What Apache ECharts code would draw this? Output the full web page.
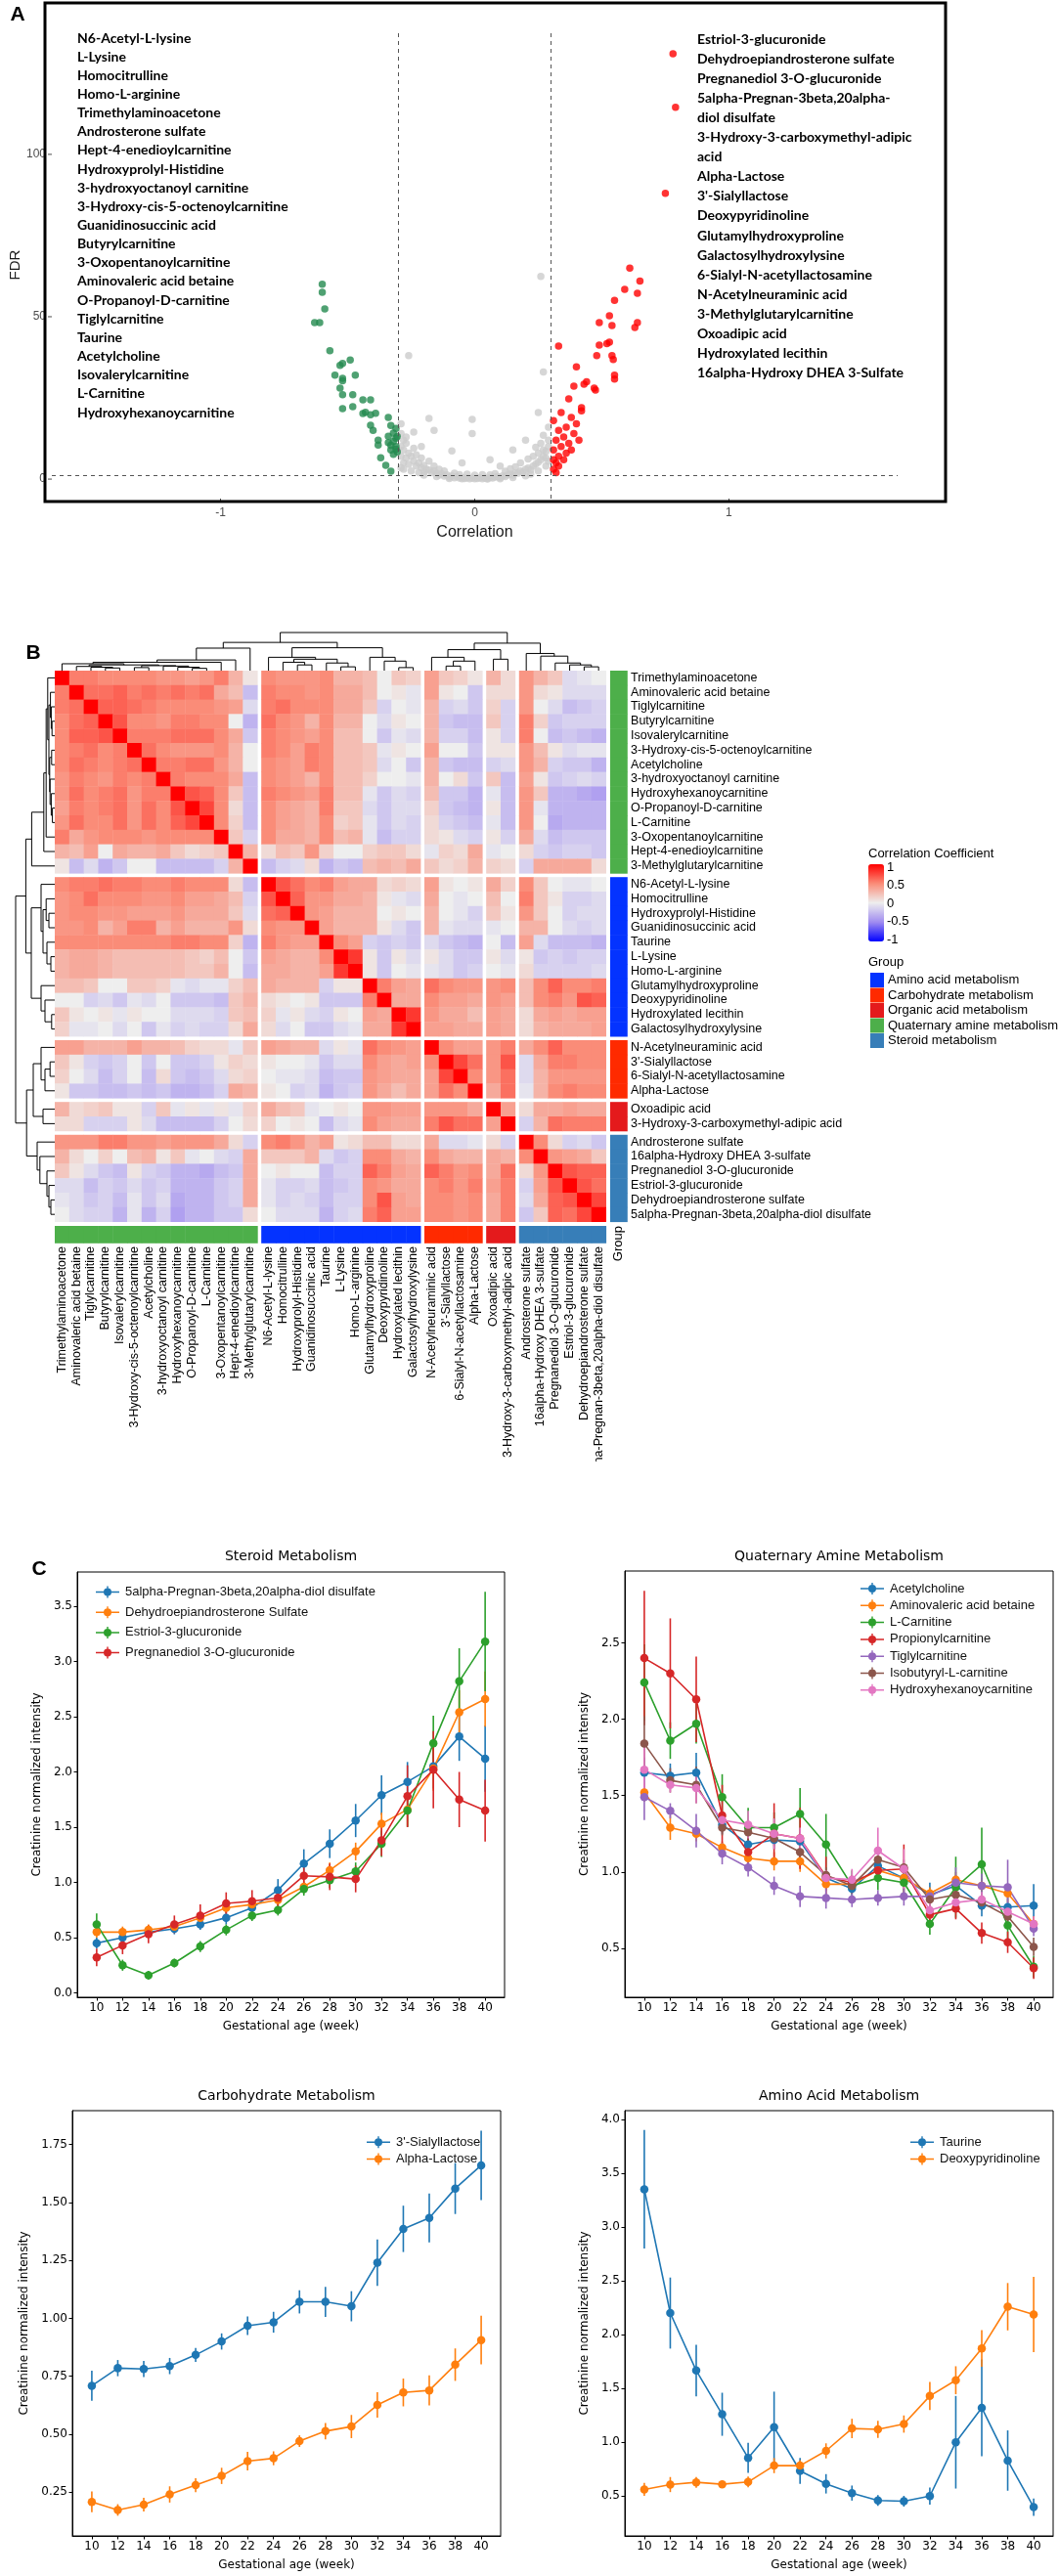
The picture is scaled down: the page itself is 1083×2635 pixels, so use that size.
<!DOCTYPE html>
<html><head><meta charset="utf-8">
<script src="https://cdn.jsdelivr.net/npm/echarts@6/dist/echarts.min.js"></script>
<style>html,body{margin:0;padding:0;background:#fff}#c{width:1083px;height:2635px}</style>
</head><body><div id="c"></div>
<script>
// ===================== DATA =====================
// Panel A: volcano plot [correlation, FDR]
const volcanoGray = [
[-0.29,14],[-0.28,12],[-0.29,10],[-0.27,11],[-0.28,9],[-0.26,8],[-0.29,7],[-0.27,6.5],[-0.25,7],[-0.24,5.5],
[-0.28,5],[-0.26,4.5],[-0.23,4],[-0.22,5],[-0.21,3.5],[-0.2,4.2],[-0.19,3],[-0.18,2.8],[-0.2,2.2],[-0.17,2],
[-0.16,2.6],[-0.15,1.8],[-0.14,1.2],[-0.13,1.6],[-0.12,0.9],[-0.11,1.3],[-0.1,0.6],[-0.09,1],[-0.08,0.4],[-0.07,0.8],
[-0.06,0.3],[-0.05,0.5],[-0.04,0.2],[-0.03,0.4],[-0.02,0.1],[-0.01,0.3],[0,0.1],[0.01,0.2],[0.02,0.4],[0.03,0.1],
[0.04,0.3],[0.05,0.2],[0.06,0.5],[0.07,0.3],[0.08,0.6],[0.09,0.8],[0.1,0.5],[0.11,1],[0.12,0.8],[0.13,1.3],
[0.14,1.5],[0.15,1.2],[0.16,2],[0.17,1.8],[0.18,2.5],[0.19,2.2],[0.2,3],[0.21,3.4],[0.22,2.8],[0.23,4],
[0.24,4.6],[0.25,5.2],[0.26,6],[0.27,7],[0.28,8.5],[0.29,10],[0.29,12],[0.28,6.5],[0.27,9],[0.26,11],
[0.25,8],[-0.25,2.5],[-0.2,1.2],[-0.15,0.8],[-0.1,0.2],[-0.05,0.1],[0.05,0],[0.1,0.1],[0.15,0.5],[0.2,1],
[0.25,2.5],[0.22,1.5],[-0.22,2],[-0.28,3],[0.28,4],[-0.12,2.5],[0.12,2.4],[-0.08,1.8],[0.08,1.7],[0,1.2],
[-0.03,1.5],[0.03,1.4],[-0.18,5.5],[0.18,5],[-0.23,7.5],[0.23,7],[-0.16,4],[0.16,3.8],[-0.27,13],[0.27,13.5],
[-0.24,9.5],[0.24,9.8],[-0.21,6.5],[0.21,6.2],[-0.14,3],[0.14,3.2],[-0.06,1.4],[0.06,1.3],[-0.29,3.5],[0.29,5.5],
[-0.26,38],[0.26,62.4],[0.27,33],[-0.18,18.7],[-0.16,15],[-0.01,18.4],[-0.01,14],[0.25,20.5],[0.15,9],[-0.09,8.7],
[-0.21,10],[0.2,12],[-0.24,14.5],[0.29,16],[-0.29,17],[0.06,6],[-0.05,5],[0.1,4]
];
const volcanoGreen = [
[-0.60,60],[-0.60,57.5],[-0.59,52.4],[-0.63,48.2],[-0.61,48.2],[-0.57,39.5],[-0.49,36.7],[-0.53,35],[-0.52,35.6],[-0.55,32],
[-0.47,32],[-0.52,31],[-0.52,30.3],[-0.53,28],[-0.48,26],[-0.52,26],[-0.44,24.4],[-0.41,24.4],[-0.52,21.7],[-0.48,22.3],
[-0.44,20.2],[-0.43,20.6],[-0.41,19.8],[-0.39,20.3],[-0.34,19],[-0.41,16.6],[-0.40,15],[-0.33,16.5],[-0.31,15.6],[-0.32,14.2],
[-0.38,12],[-0.38,10.5],[-0.34,11.2],[-0.31,10],[-0.33,9],[-0.305,8.4],[-0.32,7.6],[-0.37,6.6],[-0.35,4.2],[-0.33,2.4],
[-0.31,12.6],[-0.34,13.2],[-0.32,11.6],[-0.305,13.1],[-0.31,9.2],[-0.33,10.4]
];
const volcanoRed = [
[0.78,131],[0.79,114.5],[0.75,88],[0.61,65],[0.65,61],[0.59,58.4],[0.64,57.2],[0.55,55],[0.53,50.3],[0.49,48.2],
[0.54,47.3],[0.64,48.2],[0.63,46.7],[0.33,41],[0.49,41.3],[0.53,42.2],[0.52,41.7],[0.48,38],[0.54,38],[0.545,36.8],
[0.40,34.6],[0.55,32],[0.55,30.8],[0.39,28.6],[0.44,30],[0.43,29.2],[0.47,28],[0.475,27.4],[0.37,24.7],[0.42,22],
[0.31,3],[0.32,5],[0.33,7],[0.31,9],[0.34,10],[0.32,12],[0.35,13],[0.33,15],[0.36,16],[0.31,18],
[0.38,19],[0.34,20.5],[0.36,8],[0.37,11],[0.39,14],[0.40,17],[0.42,21],[0.31,6],[0.33,4],[0.35,6],
[0.38,9],[0.32,2],[0.41,12]
];
const volcanoXTicks = [-1, 0, 1];
const volcanoYTicks = [0, 50, 100];
const corrCutoffs = [-0.3, 0.3];
const fdrCutoff = 1.3;
const negLabels = ['N6-Acetyl-L-lysine','L-Lysine','Homocitrulline','Homo-L-arginine','Trimethylaminoacetone','Androsterone sulfate',
 'Hept-4-enedioylcarnitine','Hydroxyprolyl-Histidine','3-hydroxyoctanoyl carnitine','3-Hydroxy-cis-5-octenoylcarnitine',
 'Guanidinosuccinic acid','Butyrylcarnitine','3-Oxopentanoylcarnitine','Aminovaleric acid betaine','O-Propanoyl-D-carnitine',
 'Tiglylcarnitine','Taurine','Acetylcholine','Isovalerylcarnitine','L-Carnitine','Hydroxyhexanoycarnitine'];
const posLabelLines = ['Estriol-3-glucuronide','Dehydroepiandrosterone sulfate','Pregnanediol 3-O-glucuronide',
 '5alpha-Pregnan-3beta,20alpha-','diol disulfate','3-Hydroxy-3-carboxymethyl-adipic','acid','Alpha-Lactose',"3'-Sialyllactose",
 'Deoxypyridinoline','Glutamylhydroxyproline','Galactosylhydroxylysine','6-Sialyl-N-acetyllactosamine','N-Acetylneuraminic acid',
 '3-Methylglutarylcarnitine','Oxoadipic acid','Hydroxylated lecithin','16alpha-Hydroxy DHEA 3-Sulfate'];

// Panel B: heatmap
const metabolites = ['Trimethylaminoacetone','Aminovaleric acid betaine','Tiglylcarnitine','Butyrylcarnitine','Isovalerylcarnitine',
 '3-Hydroxy-cis-5-octenoylcarnitine','Acetylcholine','3-hydroxyoctanoyl carnitine','Hydroxyhexanoycarnitine','O-Propanoyl-D-carnitine',
 'L-Carnitine','3-Oxopentanoylcarnitine','Hept-4-enedioylcarnitine','3-Methylglutarylcarnitine','N6-Acetyl-L-lysine','Homocitrulline',
 'Hydroxyprolyl-Histidine','Guanidinosuccinic acid','Taurine','L-Lysine','Homo-L-arginine','Glutamylhydroxyproline','Deoxypyridinoline',
 'Hydroxylated lecithin','Galactosylhydroxylysine','N-Acetylneuraminic acid',"3'-Sialyllactose",'6-Sialyl-N-acetyllactosamine',
 'Alpha-Lactose','Oxoadipic acid','3-Hydroxy-3-carboxymethyl-adipic acid','Androsterone sulfate','16alpha-Hydroxy DHEA 3-sulfate',
 'Pregnanediol 3-O-glucuronide','Estriol-3-glucuronide','Dehydroepiandrosterone sulfate','5alpha-Pregnan-3beta,20alpha-diol disulfate'];
const groupNames = ['Amino acid metabolism','Carbohydrate metabolism','Organic acid metabolism','Quaternary amine metabolism','Steroid metabolism'];
const groupColors = ['#0433FF','#FF2A00','#E41A1C','#4DAF4A','#377EB8'];
const metaboliteGroup = [3,3,3,3,3,3,3,3,3,3,3,3,3,3, 0,0,0,0,0,0,0,0,0,0,0, 1,1,1,1, 2,2, 4,4,4,4,4,4];
const corrLower = [
[1],
[0.55,1],
[0.55,0.6,1],
[0.5,0.6,0.65,1],
[0.5,0.65,0.65,0.7,1],
[0.5,0.55,0.6,0.5,0.55,1],
[0.5,0.6,0.55,0.5,0.55,0.6,1],
[0.45,0.55,0.5,0.45,0.55,0.5,0.55,1],
[0.45,0.6,0.5,0.55,0.6,0.45,0.55,0.55,1],
[0.4,0.55,0.5,0.55,0.6,0.45,0.6,0.5,0.7,1],
[0.45,0.6,0.5,0.5,0.6,0.45,0.6,0.5,0.65,0.75,1],
[0.55,0.35,0.45,0.5,0.5,0.5,0.45,0.5,0.5,0.5,0.5,1],
[0.3,0.25,0.4,0.0,0.35,0.3,0.3,0.35,0.2,0.1,0.15,0.2,1],
[0.05,-0.25,-0.1,-0.3,-0.2,0.0,0.0,-0.25,-0.25,-0.25,-0.25,-0.15,0.3,1],
[0.5,0.55,0.55,0.6,0.55,0.55,0.5,0.5,0.55,0.5,0.5,0.5,0.1,-0.25,1],
[0.45,0.5,0.6,0.5,0.5,0.5,0.45,0.45,0.5,0.4,0.4,0.35,0.25,-0.15,0.7,1],
[0.45,0.5,0.5,0.45,0.45,0.4,0.4,0.4,0.45,0.35,0.35,0.35,0.2,-0.1,0.6,0.65,1],
[0.45,0.45,0.5,0.3,0.4,0.55,0.55,0.3,0.4,0.3,0.3,0.3,0.45,0.1,0.5,0.45,0.45,1],
[0.5,0.5,0.5,0.5,0.5,0.5,0.5,0.5,0.55,0.55,0.5,0.5,0.15,-0.3,0.55,0.45,0.4,0.4,1],
[0.3,0.35,0.35,0.3,0.25,0.25,0.25,0.25,0.25,0.2,0.15,0.25,0.0,-0.2,0.4,0.35,0.3,0.3,0.5,1],
[0.3,0.35,0.35,0.3,0.25,0.25,0.25,0.25,0.25,0.2,0.2,0.3,0.0,-0.25,0.35,0.35,0.3,0.3,0.4,0.8,1],
[0.25,0.25,0.2,0.0,0.0,0.2,0.2,0.15,-0.05,-0.1,-0.05,-0.05,0.15,0.25,0.35,0.3,0.3,0.3,-0.15,0.05,0.05,1],
[0.0,0.0,-0.15,-0.1,-0.2,-0.05,-0.1,0.0,-0.2,-0.2,-0.2,-0.25,0.2,0.3,0.1,0.05,0.0,0.05,-0.2,-0.2,-0.2,0.55,1],
[0.2,0.05,0.0,0.05,-0.05,0.05,0.0,0.0,-0.1,-0.1,-0.1,-0.15,0.2,0.25,0.15,-0.05,0.05,-0.1,-0.15,0.05,0.0,0.4,0.35,1],
[0.15,-0.05,-0.05,0.0,-0.1,0.0,-0.2,-0.05,-0.15,-0.1,-0.15,-0.15,0.1,0.35,0.1,-0.1,0.0,-0.2,-0.2,-0.1,-0.05,0.35,0.35,0.8,1],
[0.4,0.4,0.3,0.3,0.3,0.4,0.3,0.3,0.25,0.15,0.1,0.1,-0.05,0.2,0.4,0.35,0.3,0.3,-0.1,0.05,-0.05,0.6,0.5,0.45,0.4,1],
[0.2,0.05,-0.15,-0.2,-0.15,0.0,-0.2,0.0,-0.2,-0.2,-0.15,0.05,0.15,0.1,0.05,0.0,0.0,-0.05,-0.2,-0.1,-0.1,0.5,0.4,0.35,0.4,0.5,1],
[0.15,0.0,-0.1,-0.25,-0.15,0.0,-0.25,0.1,-0.2,-0.25,-0.2,-0.1,0.1,0.15,0.0,-0.05,-0.05,-0.1,-0.25,-0.2,-0.2,0.45,0.4,0.35,0.35,0.4,0.75,1],
[0.05,-0.2,-0.2,-0.25,-0.25,-0.2,-0.25,-0.2,-0.3,-0.3,-0.25,-0.15,0.35,0.3,0.05,0.0,-0.15,-0.1,-0.3,-0.2,-0.15,0.45,0.35,0.25,0.35,0.4,0.6,0.5,1],
[0.3,0.1,0.15,0.2,0.05,0.05,-0.15,0.2,-0.05,0.05,-0.05,0.05,-0.05,0.15,0.35,0.25,0.2,-0.05,0.0,0.05,0.0,0.45,0.45,0.4,0.4,0.45,0.45,0.45,0.35,1],
[0.1,0.1,-0.15,-0.15,-0.15,0.05,-0.1,-0.25,-0.25,-0.25,-0.25,-0.15,0.0,0.1,0.15,0.0,0.05,0.0,-0.25,-0.1,-0.05,0.5,0.4,0.35,0.35,0.55,0.7,0.6,0.6,0.4,1],
[0.45,0.45,0.45,0.55,0.55,0.45,0.45,0.4,0.45,0.45,0.45,0.35,0.1,-0.15,0.5,0.55,0.45,0.3,0.4,0.05,0.1,0.25,0.25,0.1,0.1,0.35,-0.1,-0.1,-0.05,0.1,-0.15,1],
[0.3,0.1,0.0,0.15,0.0,0.25,0.3,0.05,0.2,-0.05,0.0,-0.1,-0.15,0.35,0.2,0.2,0.2,0.3,-0.1,-0.2,-0.15,0.5,0.5,0.35,0.3,0.5,0.35,0.3,0.3,0.35,0.3,0.5,1],
[0.2,0.05,-0.1,-0.2,-0.25,0.05,-0.15,-0.2,-0.3,-0.3,-0.35,-0.25,-0.2,0.35,0.0,0.05,0.0,0.0,-0.25,-0.15,-0.15,0.65,0.55,0.4,0.35,0.65,0.55,0.45,0.5,0.35,0.6,0.1,0.45,1],
[-0.1,-0.1,-0.25,-0.15,-0.2,-0.1,-0.2,-0.15,-0.3,-0.3,-0.3,-0.2,-0.15,0.35,-0.05,-0.15,-0.15,-0.1,-0.25,-0.2,-0.15,0.5,0.45,0.35,0.35,0.5,0.55,0.45,0.55,0.4,0.55,-0.15,0.4,0.7,1],
[-0.05,-0.1,-0.2,-0.15,-0.25,-0.05,-0.2,-0.1,-0.35,-0.3,-0.3,-0.2,-0.15,0.35,-0.05,-0.15,-0.1,-0.15,-0.25,-0.15,-0.15,0.5,0.7,0.4,0.35,0.5,0.5,0.45,0.5,0.35,0.55,-0.1,0.35,0.65,0.7,1],
[0.0,-0.1,-0.15,-0.15,-0.3,-0.05,-0.3,-0.15,-0.4,-0.3,-0.3,-0.2,-0.2,0.1,0.0,-0.1,-0.1,-0.1,-0.3,-0.15,-0.1,0.55,0.65,0.4,0.4,0.5,0.5,0.45,0.5,0.35,0.55,-0.2,0.2,0.65,0.6,0.75,1]
];
const colorbarTicks = [-1, -0.5, 0, 0.5, 1];
// hierarchical clustering tree: [height, left, right], leaves = metabolite index
const treeQ = [0.59, [0.28, [0.22, [0.18, 0, [0.15, [0.11, 1, [0.09, 2, [0.07, 3, 4]]], [0.13, [0.08, 5, 6], [0.12, 7, [0.09, 8, [0.06, 9, 10]]]]]], 11], 12], 13];
const treeA = [0.6, [0.35, 14, [0.3, [0.22, 15, [0.15, 16, 17]], [0.2, 18, [0.1, 19, 20]]]], [0.35, 21, [0.25, 22, [0.08, 23, 24]]]];
const treeC = [0.35, 25, [0.25, [0.12, 26, 27], 28]];
const treeO = [0.3, 29, 30];
const treeS = [0.45, 31, [0.38, 32, [0.2, 33, [0.15, 34, [0.1, 35, 36]]]]];
const dendroTree = [1, [0.74, treeQ, treeA], [0.72, [0.55, treeC, treeO], treeS]];

// Panel C
const weeks = [10,12,14,16,18,20,22,24,26,28,30,32,34,36,38,40];
const steroidNames = ['5alpha-Pregnan-3beta,20alpha-diol disulfate','Dehydroepiandrosterone Sulfate','Estriol-3-glucuronide','Pregnanediol 3-O-glucuronide'];
const steroidMean = [
 [0.45,0.5,0.55,0.58,0.62,0.68,0.77,0.93,1.17,1.35,1.56,1.79,1.91,2.05,2.32,2.12],
 [0.55,0.55,0.57,0.6,0.68,0.77,0.8,0.84,0.96,1.11,1.28,1.53,1.66,2.03,2.54,2.66],
 [0.62,0.25,0.16,0.27,0.42,0.57,0.7,0.75,0.94,1.02,1.10,1.35,1.65,2.26,2.82,3.18],
 [0.32,0.43,0.53,0.62,0.7,0.81,0.83,0.86,1.06,1.05,1.03,1.38,1.78,2.02,1.75,1.65]];
const steroidErr = [
 [0.05,0.05,0.05,0.05,0.05,0.06,0.07,0.1,0.13,0.13,0.15,0.18,0.18,0.2,0.22,0.3],
 [0.05,0.05,0.05,0.05,0.05,0.05,0.05,0.05,0.06,0.07,0.08,0.1,0.15,0.2,0.2,0.25],
 [0.1,0.05,0.04,0.04,0.05,0.05,0.05,0.05,0.06,0.07,0.08,0.12,0.15,0.25,0.3,0.45],
 [0.08,0.08,0.08,0.08,0.1,0.1,0.1,0.1,0.12,0.12,0.12,0.14,0.28,0.35,0.25,0.28]];
const quatNames = ['Acetylcholine','Aminovaleric acid betaine','L-Carnitine','Propionylcarnitine','Tiglylcarnitine','Isobutyryl-L-carnitine','Hydroxyhexanoycarnitine'];
const quatMean = [
 [1.65,1.63,1.65,1.31,1.18,1.21,1.20,0.96,0.89,1.04,0.96,0.85,0.91,0.78,0.77,0.78],
 [1.52,1.29,1.25,1.16,1.09,1.07,1.07,0.92,0.92,1.01,0.96,0.86,0.95,0.91,0.86,0.66],
 [2.24,1.86,1.97,1.49,1.29,1.29,1.38,1.18,0.91,0.96,0.93,0.66,0.90,1.05,0.65,0.38],
 [2.40,2.30,2.13,1.37,1.13,1.25,1.22,0.97,0.93,1.01,1.02,0.72,0.76,0.60,0.54,0.37],
 [1.49,1.40,1.27,1.12,1.03,0.91,0.84,0.83,0.82,0.83,0.84,0.84,0.93,0.91,0.90,0.63],
 [1.84,1.60,1.57,1.29,1.26,1.22,1.13,0.98,0.91,1.08,1.03,0.82,0.85,0.80,0.71,0.51],
 [1.67,1.57,1.55,1.34,1.31,1.25,1.22,0.96,0.95,1.14,1.02,0.75,0.80,0.82,0.74,0.66]];
const quatErr = [
 [0.1,0.08,0.13,0.06,0.05,0.06,0.06,0.05,0.04,0.05,0.05,0.08,0.07,0.07,0.06,0.14],
 [0.06,0.08,0.05,0.04,0.04,0.06,0.07,0.04,0.03,0.04,0.04,0.04,0.05,0.05,0.06,0.05],
 [0.25,0.12,0.13,0.15,0.13,0.1,0.17,0.2,0.1,0.08,0.08,0.07,0.2,0.24,0.1,0.07],
 [0.44,0.36,0.28,0.2,0.1,0.2,0.2,0.13,0.05,0.07,0.16,0.06,0.07,0.07,0.07,0.07],
 [0.15,0.05,0.11,0.07,0.06,0.06,0.07,0.07,0.05,0.05,0.06,0.04,0.1,0.08,0.18,0.05],
 [0.18,0.08,0.12,0.05,0.05,0.05,0.06,0.05,0.05,0.05,0.05,0.05,0.05,0.05,0.05,0.06],
 [0.15,0.05,0.1,0.05,0.09,0.1,0.07,0.05,0.07,0.15,0.13,0.05,0.05,0.05,0.05,0.05]];
const carbNames = ["3'-Sialyllactose",'Alpha-Lactose'];
const carbMean = [
 [0.709,0.785,0.781,0.794,0.842,0.90,0.968,0.983,1.071,1.071,1.052,1.24,1.386,1.433,1.56,1.66],
 [0.208,0.173,0.196,0.24,0.28,0.32,0.384,0.396,0.47,0.513,0.533,0.626,0.68,0.689,0.80,0.906]];
const carbErr = [
 [0.065,0.035,0.035,0.035,0.03,0.035,0.04,0.045,0.05,0.065,0.065,0.1,0.1,0.105,0.11,0.15],
 [0.045,0.025,0.03,0.035,0.03,0.035,0.04,0.03,0.025,0.035,0.05,0.055,0.06,0.065,0.07,0.105]];
const aminoNames = ['Taurine','Deoxypyridinoline'];
const aminoMean = [
 [3.35,2.2,1.666,1.26,0.855,1.14,0.734,0.614,0.528,0.459,0.452,0.5,1.0,1.32,0.83,0.397],
 [0.562,0.607,0.628,0.61,0.631,0.783,0.783,0.92,1.128,1.12,1.169,1.43,1.576,1.872,2.259,2.186]];
const aminoErr = [
 [0.55,0.33,0.24,0.2,0.14,0.33,0.12,0.09,0.07,0.05,0.05,0.08,0.43,0.45,0.28,0.08],
 [0.06,0.07,0.05,0.03,0.05,0.07,0.05,0.07,0.09,0.08,0.08,0.13,0.13,0.17,0.22,0.35]];
const tab10 = ['#1f77b4','#ff7f0e','#2ca02c','#d62728','#9467bd','#8c564b','#e377c2'];
const steroidTicks = [0,0.5,1,1.5,2,2.5,3,3.5];
const quatTicks = [0.5,1,1.5,2,2.5];
const carbTicks = [0.25,0.5,0.75,1,1.25,1.5,1.75];
const aminoTicks = [0.5,1,1.5,2,2.5,3,3.5,4];

// ===================== LAYOUT / BUILD =====================
const chart = echarts.init(document.getElementById('c'), null, {renderer:'canvas', width:1083, height:2635});
const SANS = 'Liberation Sans, Arial, sans-serif';
const DJ = 'DejaVu Sans, sans-serif';

const GAP = 0.27, BARGAP = 0.3, BARW = 1.2, CELL = 14.8;
const blockOf = [];
let blk = 0;
metaboliteGroup.forEach((g, i) => { if (i > 0 && g !== metaboliteGroup[i-1]) blk++; blockOf.push(blk); });
const nBlocks = blk + 1;
const cellPos = metaboliteGroup.map((g, i) => i + GAP * blockOf[i]);
const HM = metabolites.length + GAP * (nBlocks - 1);
const T = HM + BARGAP + BARW;
const HMPX = T * CELL;

function corrAt(i, j) { return j <= i ? corrLower[i][j] : corrLower[j][i]; }
const heatData = [];
for (let i = 0; i < metabolites.length; i++) for (let j = 0; j < metabolites.length; j++)
  heatData.push([cellPos[j], cellPos[i], corrAt(i, j)]);

const dendroSegs = [];
function walk(node) {
  if (typeof node === 'number') return {p: cellPos[node] + 0.5, h: 0};
  const l = walk(node[1]), r = walk(node[2]), h = node[0];
  dendroSegs.push([l.p, l.h, l.p, h], [r.p, r.h, r.p, h], [l.p, h, r.p, h]);
  return {p: (l.p + r.p) / 2, h: h};
}
walk(dendroTree);

const grids = [
  {left:46, top:32, width:872, height:478},
  {left:56, top:686, width:HMPX, height:HMPX},
  {left:56, top:647, width:HMPX, height:39},
  {left:16, top:686, width:40, height:HMPX},
  {left:888, top:887, width:16, height:74},
  {left:79, top:1608, width:437, height:435, show:true, borderColor:'#000', borderWidth:1},
  {left:639, top:1607, width:438, height:436, show:true, borderColor:'#000', borderWidth:1},
  {left:74, top:2159, width:438, height:435, show:true, borderColor:'#000', borderWidth:1},
  {left:639, top:2159, width:438, height:435, show:true, borderColor:'#000', borderWidth:1}
];
const hidden = (gi, min, max, inverse) => ({gridIndex:gi, type:'value', min, max, inverse:!!inverse, show:false});
function cXAxis(gi) {
  return {gridIndex:gi, type:'value', min:8.5, max:41.5,
    axisLine:{show:true, onZero:false, lineStyle:{color:'#000', width:1}},
    axisTick:{show:true, customValues:weeks, length:3.5, lineStyle:{color:'#000'}},
    axisLabel:{customValues:weeks, color:'#000', fontSize:12, fontFamily:DJ, margin:5},
    splitLine:{show:false},
    name:'Gestational age (week)', nameLocation:'middle', nameGap:24,
    nameTextStyle:{fontSize:12, fontFamily:DJ, color:'#000'}};
}
function cYAxis(gi, min, max, ticks, dec, gap) {
  return {gridIndex:gi, type:'value', min, max,
    axisLine:{show:true, onZero:false, lineStyle:{color:'#000', width:1}},
    axisTick:{show:true, customValues:ticks, length:3.5, lineStyle:{color:'#000'}},
    axisLabel:{customValues:ticks, color:'#000', fontSize:12, fontFamily:DJ, margin:5, formatter:v => Number(v).toFixed(dec)},
    splitLine:{show:false},
    name:'Creatinine normalized intensity', nameLocation:'middle', nameGap:gap,
    nameTextStyle:{fontSize:12, fontFamily:DJ, color:'#000'}};
}
const xAxes = [
  {gridIndex:0, type:'value', min:-1.664, max:1.664, position:'bottom', axisLine:{show:false, onZero:false},
   axisTick:{show:true, customValues:volcanoXTicks, length:4, lineStyle:{color:'#4d4d4d'}},
   axisLabel:{customValues:volcanoXTicks, color:'#4d4d4d', fontSize:12, fontFamily:SANS, margin:9},
   splitLine:{show:false}, name:'Correlation', nameLocation:'middle', nameGap:27,
   nameTextStyle:{fontSize:16, fontFamily:SANS, color:'#1a1a1a'}},
  hidden(1, 0, T), hidden(2, 0, T), hidden(3, 0, 1, true), hidden(4, 0, 1),
  cXAxis(5), cXAxis(6), cXAxis(7), cXAxis(8)
];
const yAxes = [
  {gridIndex:0, type:'value', min:-6.0, max:137.9, position:'left', axisLine:{show:false, onZero:false},
   axisTick:{show:false}, axisLabel:{show:false},
   splitLine:{show:false}, name:'FDR', nameLocation:'middle', nameGap:30,
   nameTextStyle:{fontSize:15, fontFamily:SANS, color:'#1a1a1a'}},
  hidden(1, 0, T, true), hidden(2, 0, 1), hidden(3, 0, T, true),
  {gridIndex:4, type:'value', min:-1, max:1, interval:0.5, position:'right',
   axisLine:{show:false, onZero:false}, axisTick:{show:true, inside:true, length:3, lineStyle:{color:'#fff'}},
   axisLabel:{color:'#000', fontSize:13, fontFamily:SANS, margin:3, customValues:colorbarTicks}, splitLine:{show:false}},
  cYAxis(5, -0.04, 3.81, steroidTicks, 1, 35),
  cYAxis(6, 0.18, 2.97, quatTicks, 1, 35),
  cYAxis(7, 0.061, 1.896, carbTicks, 2, 43),
  cYAxis(8, 0.13, 4.08, aminoTicks, 1, 35)
];

const series = [];
series.push({type:'scatter', xAxisIndex:0, yAxisIndex:0, data:volcanoGray, symbolSize:7.5, itemStyle:{color:'#CCCCCC'}, z:2,
  markLine:{silent:true, symbol:'none', label:{show:false}, lineStyle:{color:'#555', type:[4,4], width:1},
    data:[{xAxis:corrCutoffs[0]}, {xAxis:corrCutoffs[1]}, {yAxis:fdrCutoff}]}});
series.push({type:'scatter', xAxisIndex:0, yAxisIndex:0, data:volcanoGreen, symbolSize:7.5, itemStyle:{color:'#23894F'}, z:3});
series.push({type:'scatter', xAxisIndex:0, yAxisIndex:0, data:volcanoRed, symbolSize:7.5, itemStyle:{color:'#FF0000'}, z:3});
// y ticks + labels of panel A, placed through the axis scale
series.push({type:'custom', xAxisIndex:0, yAxisIndex:0, silent:true, data:volcanoYTicks.map(v => [-1.664, v]), encode:{x:0, y:1},
  renderItem:(params, api) => {
    const p = api.coord([api.value(0), api.value(1)]);
    return {type:'group', children:[
      {type:'line', shape:{x1:p[0]-4, y1:p[1], x2:p[0], y2:p[1]}, style:{stroke:'#4d4d4d', lineWidth:1}},
      {type:'text', x:p[0]-6, y:p[1], style:{text:String(api.value(1)), font:'12px ' + SANS, fill:'#4d4d4d', align:'right', verticalAlign:'middle'}}]};
  }});

const heatIndex = series.length;
series.push({type:'custom', xAxisIndex:1, yAxisIndex:1, data:heatData, encode:{x:0, y:1}, silent:true,
  renderItem:(params, api) => {
    const p1 = api.coord([api.value(0), api.value(1)]);
    const p2 = api.coord([api.value(0) + 1, api.value(1) + 1]);
    return {type:'rect', shape:{x:p1[0], y:p1[1], width:p2[0]-p1[0]+0.4, height:p2[1]-p1[1]+0.4},
      style:{fill:api.visual('color')}};
  }});
series.push({type:'custom', xAxisIndex:1, yAxisIndex:1, silent:true,
  data:cellPos.map((p, i) => [p, metaboliteGroup[i]]), encode:{x:0, y:0},
  renderItem:(params, api) => {
    const p = api.value(0), c = groupColors[api.value(1)];
    const a = api.coord([HM + BARGAP, p]), b = api.coord([T, p + 1]);
    const c1 = api.coord([p, HM + BARGAP]), d = api.coord([p + 1, T]);
    return {type:'group', children:[
      {type:'rect', shape:{x:a[0], y:a[1], width:b[0]-a[0], height:b[1]-a[1]+0.5}, style:{fill:c}},
      {type:'rect', shape:{x:c1[0], y:c1[1], width:d[0]-c1[0]+0.5, height:d[1]-c1[1]}, style:{fill:c}}]};
  }});
series.push({type:'custom', xAxisIndex:1, yAxisIndex:1, silent:true,
  data:cellPos.map((p, i) => [p, i]), encode:{x:0, y:0},
  renderItem:(params, api) => {
    const p = api.value(0), i = api.value(1);
    const r = api.coord([T + 0.22, p + 0.5]);
    const c = api.coord([p + 0.5, T + 0.22]);
    const font = '12.5px ' + SANS;
    return {type:'group', children:[
      {type:'text', x:r[0], y:r[1], style:{text:metabolites[i], font, fill:'#000', align:'left', verticalAlign:'middle'}},
      {type:'text', x:c[0], y:c[1], rotation:Math.PI/2, style:{text:metabolites[i], font, fill:'#000', align:'right', verticalAlign:'middle'}}]};
  }});
series.push({type:'custom', xAxisIndex:2, yAxisIndex:2, silent:true, data:dendroSegs, encode:{x:0, y:1},
  renderItem:(params, api) => {
    const a = api.coord([api.value(0), api.value(1)]), b = api.coord([api.value(2), api.value(3)]);
    return {type:'line', shape:{x1:a[0], y1:a[1], x2:b[0], y2:b[1]}, style:{stroke:'#000', lineWidth:1}};
  }});
series.push({type:'custom', xAxisIndex:3, yAxisIndex:3, silent:true, data:dendroSegs, encode:{x:1, y:0},
  renderItem:(params, api) => {
    const a = api.coord([api.value(1), api.value(0)]), b = api.coord([api.value(3), api.value(2)]);
    return {type:'line', shape:{x1:a[0], y1:a[1], x2:b[0], y2:b[1]}, style:{stroke:'#000', lineWidth:1}};
  }});

function addPanel(gi, names, means, errs) {
  names.forEach((n, k) => {
    const col = tab10[k];
    series.push({type:'custom', xAxisIndex:gi, yAxisIndex:gi, silent:true, z:2,
      data:weeks.map((w, t) => [w, means[k][t] - errs[k][t], means[k][t] + errs[k][t]]), encode:{x:0, y:[1,2]},
      renderItem:(params, api) => {
        const a = api.coord([api.value(0), api.value(1)]), b = api.coord([api.value(0), api.value(2)]);
        return {type:'line', shape:{x1:a[0], y1:a[1], x2:b[0], y2:b[1]}, style:{stroke:col, lineWidth:1.6}};
      }});
    series.push({type:'line', name:n, xAxisIndex:gi, yAxisIndex:gi, z:2,
      data:weeks.map((w, t) => [w, means[k][t]]), symbol:'circle', symbolSize:8.5, showSymbol:true,
      itemStyle:{color:col}, lineStyle:{color:col, width:1.6}, emphasis:{disabled:true}});
  });
}
addPanel(5, steroidNames, steroidMean, steroidErr);
addPanel(6, quatNames, quatMean, quatErr);
addPanel(7, carbNames, carbMean, carbErr);
addPanel(8, aminoNames, aminoMean, aminoErr);

const legIcon = 'path://M0,5.25H24V6.75H0Z M8,6A4,4,0,1,1,16,6A4,4,0,1,1,8,6Z M11.3,0H12.7V12H11.3Z';
function mkLegend(names, left, top, gap) {
  return {data:names.map(n => ({name:n, icon:legIcon})), left, top, orient:'vertical', itemWidth:24, itemHeight:12,
    itemGap:gap, selectedMode:false, padding:0,
    textStyle:{fontSize:13, fontFamily:SANS, color:'#111', lineHeight:12, padding:[0,0,0,1]}};
}
const legends = [
  mkLegend(steroidNames, 98, 1622, 7.7),
  mkLegend(quatNames, 880, 1618.5, 4.3),
  mkLegend(carbNames, 375, 2184.7, 4.3),
  mkLegend(aminoNames, 931, 2184.7, 4.3)
];
const mkTitle = (text, x, y) => ({text, left:x, top:y, textAlign:'center', padding:0,
  textStyle:{fontSize:14, fontWeight:'normal', fontFamily:DJ, color:'#000'}});
const titles = [
  mkTitle('Steroid Metabolism', 297.5, 1585),
  mkTitle('Quaternary Amine Metabolism', 858, 1585),
  mkTitle('Carbohydrate Metabolism', 293, 2137),
  mkTitle('Amino Acid Metabolism', 858, 2137)
];

const gfx = [];
gfx.push({type:'rect', z:50, shape:{x:46, y:3, width:921, height:510}, style:{fill:'none', stroke:'#000', lineWidth:3}});
negLabels.forEach((t, i) => gfx.push({type:'text', z:50, x:79, y:39 + i * 19.15,
  style:{text:t, font:'bold 14px Lato, ' + SANS, fill:'#000', verticalAlign:'middle'}}));
posLabelLines.forEach((t, i) => gfx.push({type:'text', z:50, x:713, y:40 + i * 20.1,
  style:{text:t, font:'bold 14px Lato, ' + SANS, fill:'#000', verticalAlign:'middle'}}));
[['A', 18, 15], ['B', 34, 668], ['C', 40, 1605]].forEach(([t, x, y]) => gfx.push({type:'text', z:50, x, y,
  style:{text:t, font:'bold 21px ' + SANS, fill:'#000', align:'center', verticalAlign:'middle'}}));
gfx.push({type:'rect', z:60, shape:{x:0, y:1495, width:700, height:70}, style:{fill:'#fff'}});
gfx.push({type:'text', z:50, x:632, y:1254, rotation:Math.PI/2,
  style:{text:'Group', font:'13px ' + SANS, fill:'#000', align:'right', verticalAlign:'middle'}});
gfx.push({type:'text', z:50, x:888, y:873, style:{text:'Correlation Coefficient', font:'13px ' + SANS, fill:'#000', verticalAlign:'middle'}});
gfx.push({type:'text', z:50, x:888, y:984, style:{text:'Group', font:'13px ' + SANS, fill:'#000', verticalAlign:'middle'}});
groupNames.forEach((g, i) => {
  gfx.push({type:'rect', z:50, shape:{x:890, y:995 + i * 15.5, width:14, height:15}, style:{fill:groupColors[i]}});
  gfx.push({type:'text', z:50, x:908, y:1002.5 + i * 15.5, style:{text:g, font:'13px ' + SANS, fill:'#000', verticalAlign:'middle'}});
});

chart.setOption({
  animation:false,
  backgroundColor:'#fff',
  textStyle:{fontFamily:SANS},
  grid:grids, xAxis:xAxes, yAxis:yAxes,
  visualMap:{type:'continuous', min:-1, max:1, seriesIndex:heatIndex, dimension:2, calculable:false,
    left:888, top:884, itemWidth:16, itemHeight:79, text:null, showLabel:false, padding:0, hoverLink:false,
    inRange:{color:['#0000FF','#A08CF0','#EEEEEE','#FA8C78','#FF0000']}},
  legend:legends, title:titles,
  graphic:{elements:gfx},
  series
});
</script></body></html>
